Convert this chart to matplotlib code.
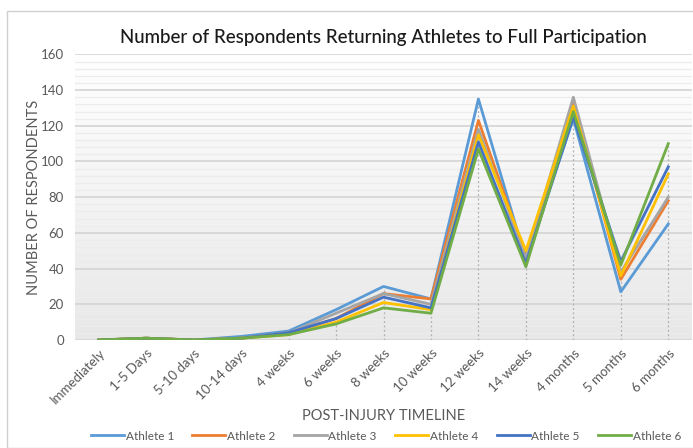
import matplotlib
matplotlib.use('Agg')
import matplotlib.pyplot as plt
import numpy as np
from matplotlib.patches import Rectangle

### DATA
timeline = ['Immediately', '1-5 Days', '5-10 days', '10-14 days', '4 weeks', '6 weeks',
            '8 weeks', '10 weeks', '12 weeks', '14 weeks', '4 months', '5 months', '6 months']
athlete_1 = [0, 1, 0, 2, 5, 17, 30, 23, 135, 45, 124, 27, 65]
athlete_2 = [0, 1, 0, 1, 4, 12, 26, 23, 123, 47, 133, 34, 78]
athlete_3 = [0, 1, 0, 1, 4, 15, 26, 20, 118, 46, 136, 38, 80]
athlete_4 = [0, 1, 0, 1, 3, 10, 21, 17, 115, 50, 131, 36, 93]
athlete_5 = [0, 1, 0, 1, 4, 12, 24, 18, 111, 43, 125, 44, 97]
athlete_6 = [0, 1, 0, 1, 3, 9, 18, 15, 107, 41, 128, 42, 110]
series = [athlete_1, athlete_2, athlete_3, athlete_4, athlete_5, athlete_6]
names = ['Athlete 1', 'Athlete 2', 'Athlete 3', 'Athlete 4', 'Athlete 5', 'Athlete 6']
colors = ['#5B9BD5', '#ED7D31', '#A5A5A5', '#FFC000', '#4472C4', '#70AD47']

plt.rcParams['font.family'] = ['Lato', 'DejaVu Sans']

fig = plt.figure(figsize=(6.93, 4.48), dpi=100)
fig.patches.append(Rectangle((7 / 693, 0.0), 0.995, 1 - 11 / 448, transform=fig.transFigure,
                             fill=False, edgecolor='#d0d0d0', linewidth=1.0))
ax = fig.add_axes([75 / 693, 108 / 448, 617 / 693, 285.6 / 448])

x = np.arange(len(timeline))

# gradient background (white top -> light gray bottom)
grad = np.linspace(1.0, 0.0, 256).reshape(-1, 1)
ax.imshow(grad, extent=[0, 1, 0, 1], transform=ax.transAxes, aspect='auto',
          cmap=matplotlib.colors.LinearSegmentedColormap.from_list('g', ['#e8e8e8', '#ffffff']),
          zorder=0)

# gridlines
for v in np.arange(0, 161, 4):
    major = v % 20 == 0
    ax.axhline(v, color='#d4d4d4' if major else '#ececec', lw=1.2 if major else 0.9, zorder=1)

# drop lines
tops = np.max(np.array(series), axis=0)
ax.vlines(x, 0, tops, colors='#b0b0b0', linestyles=(0, (1.5, 2)), lw=0.9, zorder=2)

for s, n, c in zip(series, names, colors):
    ax.plot(x, s, color=c, lw=2.0, label=n, zorder=3)

ax.set_xlim(-0.5, len(timeline) - 0.5)
ax.set_ylim(0, 160)
ax.set_yticks(np.arange(0, 161, 20))
ax.set_xticks(x)
ax.set_xticklabels(timeline, rotation=45, ha='right', rotation_mode='anchor', fontsize=9.5, color='#595959')
ax.tick_params(axis='y', labelsize=9.5, labelcolor='#595959', length=0, pad=8)
ax.tick_params(axis='x', length=0, pad=5)
for sp in ax.spines.values():
    sp.set_visible(False)

ax.set_title('Number of Respondents Returning Athletes to Full Participation',
             fontsize=13.5, color='#1a1a1a', pad=8, fontweight='medium')
ax.set_ylabel('NUMBER OF RESPONDENTS', fontsize=10.5, color='#595959', labelpad=0)
ax.set_xlabel('POST-INJURY TIMELINE', fontsize=10.5, color='#595959', labelpad=2)

ax.legend(loc='center', bbox_to_anchor=(386 / 693, 1 - 436 / 448), bbox_transform=fig.transFigure,
          ncol=6, frameon=False, fontsize=8.5, handlelength=2.8, handletextpad=0.15,
          columnspacing=1.55, labelcolor='#595959')

fig.savefig('out.png', dpi=100)
